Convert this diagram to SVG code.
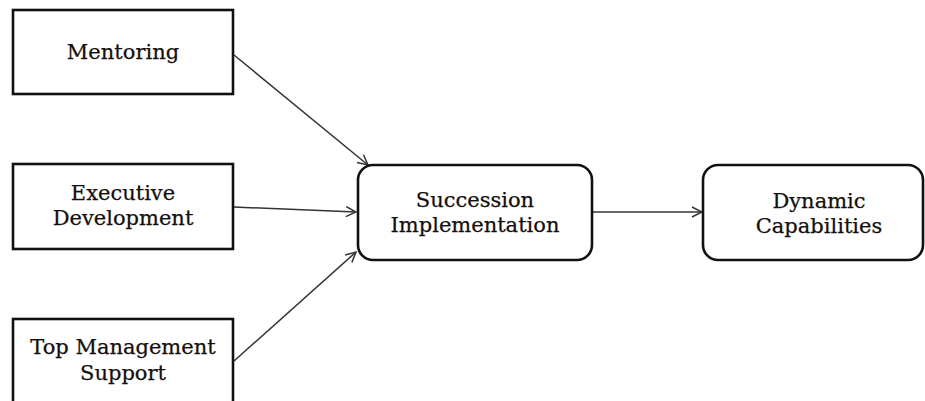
<svg xmlns="http://www.w3.org/2000/svg" width="925" height="401" viewBox="0 0 925 401">
<style>
.box{fill:#fff;stroke:#111;stroke-width:2.6}
.lbl{font-family:"DejaVu Serif","Liberation Serif",serif;font-size:21px;fill:#140f0c;stroke:#140f0c;stroke-width:0.25;text-anchor:middle}
.edge{stroke:#333;stroke-width:1.5;fill:none;marker-end:url(#ah)}
</style>
<defs>
<marker id="ah" viewBox="0 0 12 12" refX="11" refY="6" markerWidth="12" markerHeight="12" markerUnits="userSpaceOnUse" orient="auto">
<path d="M1,1 L11,6 L1,11" fill="none" stroke="#333" stroke-width="1.5"/>
</marker>
</defs>
<rect width="925" height="401" fill="#fff"/>
<g id="connectors">
<line class="edge" x1="234" y1="55" x2="368" y2="165"/>
<line class="edge" x1="234" y1="207" x2="356" y2="212"/>
<line class="edge" x1="234" y1="361" x2="356" y2="252"/>
<line class="edge" x1="593" y1="212" x2="702" y2="212"/>
</g>
<g id="mentoring">
<rect class="box" x="13" y="10" width="220" height="84"/>
<text class="lbl" x="123" y="59">Mentoring</text>
</g>
<g id="executive">
<rect class="box" x="13" y="164" width="220" height="85"/>
<text class="lbl" x="123" y="200">Executive</text>
<text class="lbl" x="123" y="225">Development</text>
</g>
<g id="topmgmt">
<rect class="box" x="13" y="319" width="220" height="100"/>
<text class="lbl" x="123" y="354">Top Management</text>
<text class="lbl" x="123" y="380">Support</text>
</g>
<g id="succession">
<rect class="box" x="358" y="165" width="234" height="95" rx="15"/>
<text class="lbl" x="475" y="207">Succession</text>
<text class="lbl" x="475" y="232">Implementation</text>
</g>
<g id="dynamic">
<rect class="box" x="703" y="165" width="220" height="95" rx="15"/>
<text class="lbl" x="819" y="208">Dynamic</text>
<text class="lbl" x="819" y="233">Capabilities</text>
</g>
</svg>
